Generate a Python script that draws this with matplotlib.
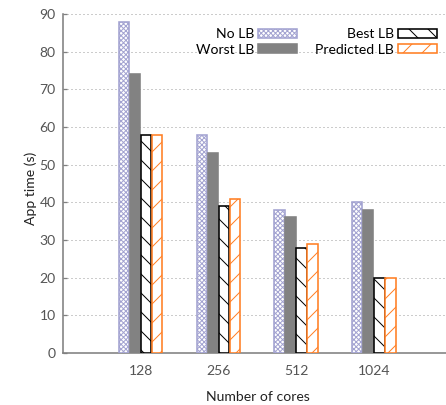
#!/usr/bin/env python3
# -*- coding: utf-8 -*-
"""
App time per load balancing strategy for different core counts
Grouped bar chart with hatched bars (gnuplot look)
"""

import matplotlib
matplotlib.use('Agg')
import matplotlib.pyplot as plt
import numpy as np

# Data
cores = ['128', '256', '512', '1024']
series_names = ['No LB', 'Worst LB', 'Best LB', 'Predicted LB']
no_lb = [88, 58, 38, 40]
worst_lb = [74, 53, 36, 38]
best_lb = [58, 39, 28, 20]
predicted_lb = [58, 41, 29, 20]
y_ticks = [0, 10, 20, 30, 40, 50, 60, 70, 80, 90]

# hatch spacing scales with dpi, so a low dpi gives the denser gnuplot hatches
DPI = 57


def px(v):
    """Convert a size in output pixels to points"""
    return v * 72.0 / DPI


def create_plot():
    """Create the grouped bar chart of app time by number of cores"""
    plt.rcParams['font.family'] = ['Lato', 'DejaVu Sans']
    plt.rcParams['hatch.linewidth'] = px(1.0)

    W, H = 446, 405
    fig = plt.figure(figsize=(W / DPI, H / DPI), dpi=DPI)
    ax = fig.add_axes([63 / W, 52 / H, 1 - 63 / W, (353 - 14) / H])

    x = np.arange(len(cores))
    width = 0.135
    step = 0.142

    # style per series: (face, edge, hatch)
    styles = [
        ('white', '#a3a3d1', 'xxxx'),
        ('#828282', '#828282', None),
        ('white', 'black', '\\'),
        ('white', '#ff7f24', '/'),
    ]
    values = [no_lb, worst_lb, best_lb, predicted_lb]

    for i, (name, vals, (fc, ec, hatch)) in enumerate(zip(series_names, values, styles)):
        offset = (i - 1.5) * step
        ax.bar(x + offset, vals, width, label=name,
               facecolor=fc, edgecolor=ec, hatch=hatch,
               linewidth=px(1.6), zorder=3)

    # Axes styling
    ax.set_xlim(-1, 3.93)
    ax.set_ylim(0, 90)
    ax.set_yticks(y_ticks)
    ax.set_xticks(x)
    ax.set_xticklabels(cores)
    ax.tick_params(axis='y', direction='in', length=px(4), width=px(1.3),
                   color='#808080', labelcolor='#555555', labelsize=px(14), pad=px(7))
    ax.tick_params(axis='x', length=0, labelcolor='#555555', labelsize=px(14), pad=px(12))
    ax.grid(axis='y', color='#9a9a9a', linestyle=(0, (1, 3)), linewidth=px(1.0))
    ax.set_axisbelow(True)

    for side in ['top', 'right']:
        ax.spines[side].set_visible(False)
    for side in ['left', 'bottom']:
        ax.spines[side].set_color('#808080')
        ax.spines[side].set_linewidth(px(1.6))

    ax.set_ylabel('App time (s)', fontsize=px(14), color='#222222')
    ax.set_xlabel('Number of cores', fontsize=px(14), color='#222222')
    ax.yaxis.set_label_coords(-0.068, 0.487)
    ax.xaxis.set_label_coords(0.509, -0.112)

    # gnuplot style legend: text right-aligned, key to the right
    ax.legend(ncol=2, markerfirst=False, loc='upper right',
              bbox_to_anchor=(0.99, 0.975), frameon=False, fontsize=px(14),
              handlelength=2.75, handleheight=0.6, handletextpad=0.3,
              columnspacing=1.3, labelspacing=0.25, borderaxespad=0)

    output_file = 'out.png'
    fig.savefig(output_file, dpi=DPI)
    plt.close(fig)


if __name__ == "__main__":
    create_plot()
